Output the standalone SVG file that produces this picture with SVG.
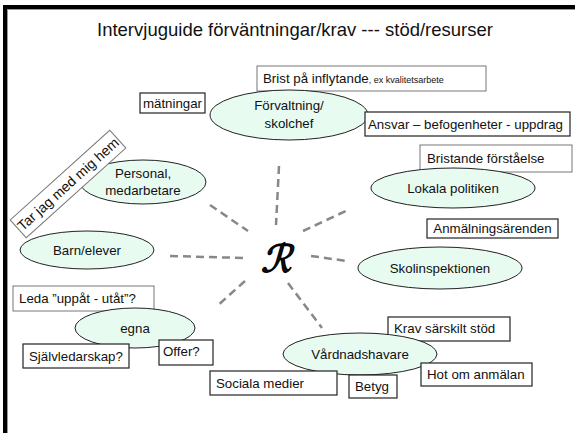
<svg xmlns="http://www.w3.org/2000/svg" width="575" height="433" viewBox="0 0 575 433">
<style>
text{font-family:"Liberation Sans",Arial,sans-serif;fill:#111}
.t{font-size:13.3px}
.n ellipse{fill:#e8fbf1;stroke:#222;stroke-width:1}
.box{fill:#fff;stroke:#222;stroke-width:1.2}
.gbox{fill:#fff;stroke:#777;stroke-width:1}
.con line{stroke:#888;stroke-width:2.5;stroke-dasharray:8 5}
</style>
<rect x="0" y="0" width="575" height="433" fill="#fff"/>
<rect x="3" y="5" width="572" height="4" fill="#000"/>
<rect x="3" y="5" width="4" height="428" fill="#000"/>
<line x1="7" y1="9.5" x2="575" y2="9.5" stroke="#999" stroke-width="1"/>
<line x1="7.5" y1="9" x2="7.5" y2="433" stroke="#999" stroke-width="1"/>
<text x="295" y="36" text-anchor="middle" font-size="18.4" textLength="396" lengthAdjust="spacingAndGlyphs">Intervjuguide förväntningar/krav --- stöd/resurser</text>

<g id="connectors" class="con">
<line x1="279" y1="166" x2="276" y2="225"/>
<line x1="210" y1="205" x2="248" y2="231"/>
<line x1="170" y1="256" x2="245" y2="258"/>
<line x1="245" y1="281" x2="216" y2="307"/>
<line x1="288" y1="283" x2="322" y2="328"/>
<line x1="311" y1="256" x2="347" y2="261"/>
<line x1="303" y1="231" x2="348" y2="210"/>
</g>

<g id="center" transform="translate(276,272) skewX(-16)"><text x="0" y="0" text-anchor="middle" font-size="38" stroke="#000" stroke-width="1.3" style="font-family:'DejaVu Sans',sans-serif">ℛ</text></g>

<g id="brist"><rect class="gbox" x="257" y="66" width="229" height="25"/><text x="263" y="83" class="t">Brist på inflytande<tspan font-size="9">, ex kvalitetsarbete</tspan></text></g>
<g id="forvaltning" class="n"><ellipse cx="289" cy="115" rx="79" ry="25"/><text x="289" y="110" text-anchor="middle" class="t">Förvaltning/</text><text x="289" y="128" text-anchor="middle" class="t">skolchef</text></g>
<g id="matningar"><rect class="box" x="140" y="93" width="65" height="20"/><text x="172.5" y="107.5" text-anchor="middle" class="t">mätningar</text></g>
<g id="ansvar"><rect class="box" x="365" y="112" width="205" height="24"/><text x="368" y="129" class="t" textLength="195" lengthAdjust="spacingAndGlyphs">Ansvar – befogenheter - uppdrag</text></g>

<g id="personal" class="n"><ellipse cx="143" cy="182" rx="63" ry="22"/><text x="143" y="178" text-anchor="middle" class="t">Personal,</text><text x="143" y="195" text-anchor="middle" class="t">medarbetare</text></g>
<g id="tarjag" transform="translate(68,184) rotate(-42)"><rect class="gbox" x="-67" y="-12" width="134" height="24"/><text x="0" y="5" text-anchor="middle" font-size="14">Tar jag med mig hem</text></g>
<g id="barn" class="n"><ellipse cx="87" cy="250" rx="67" ry="19"/><text x="87" y="254.5" text-anchor="middle" class="t">Barn/elever</text></g>

<g id="bristande"><rect class="gbox" x="420" y="145" width="152" height="27"/><text x="427" y="163" class="t">Bristande förståelse</text></g>
<g id="lokala" class="n"><ellipse cx="453" cy="188" rx="82" ry="20"/><text x="453" y="192.5" text-anchor="middle" class="t">Lokala politiken</text></g>
<g id="anmalning"><rect class="box" x="427" y="219" width="131" height="19"/><text x="492.5" y="233" text-anchor="middle" class="t">Anmälningsärenden</text></g>
<g id="skolinspektionen" class="n"><ellipse cx="440" cy="268" rx="82" ry="21"/><text x="440" y="272.5" text-anchor="middle" class="t">Skolinspektionen</text></g>

<g id="leda"><rect class="gbox" x="13" y="286" width="141" height="25"/><text x="19" y="303" class="t">Leda ”uppåt - utåt”?</text></g>
<g id="egna" class="n"><ellipse cx="135" cy="328" rx="60" ry="20"/><text x="135" y="332.5" text-anchor="middle" class="t">egna</text></g>
<g id="sjalvledarskap"><rect class="box" x="23" y="344" width="106" height="24"/><text x="29" y="361" class="t">Självledarskap?</text></g>
<g id="offer"><rect class="box" x="159" y="340" width="54" height="25"/><text x="163" y="356" class="t">Offer?</text></g>

<g id="krav"><rect class="box" x="388" y="317" width="122" height="24"/><text x="394" y="333" class="t">Krav särskilt stöd</text></g>
<g id="vardnadshavare" class="n"><ellipse cx="360" cy="354" rx="77" ry="21"/><text x="360" y="358.5" text-anchor="middle" class="t">Vårdnadshavare</text></g>
<g id="hot"><rect class="box" x="421" y="363" width="111" height="23"/><text x="427" y="379" class="t">Hot om anmälan</text></g>
<g id="sociala"><rect class="box" x="210" y="371" width="127" height="24"/><text x="216" y="388" class="t">Sociala medier</text></g>
<g id="betyg"><rect class="box" x="349" y="375" width="48" height="23"/><text x="355" y="391" class="t">Betyg</text></g>
</svg>
